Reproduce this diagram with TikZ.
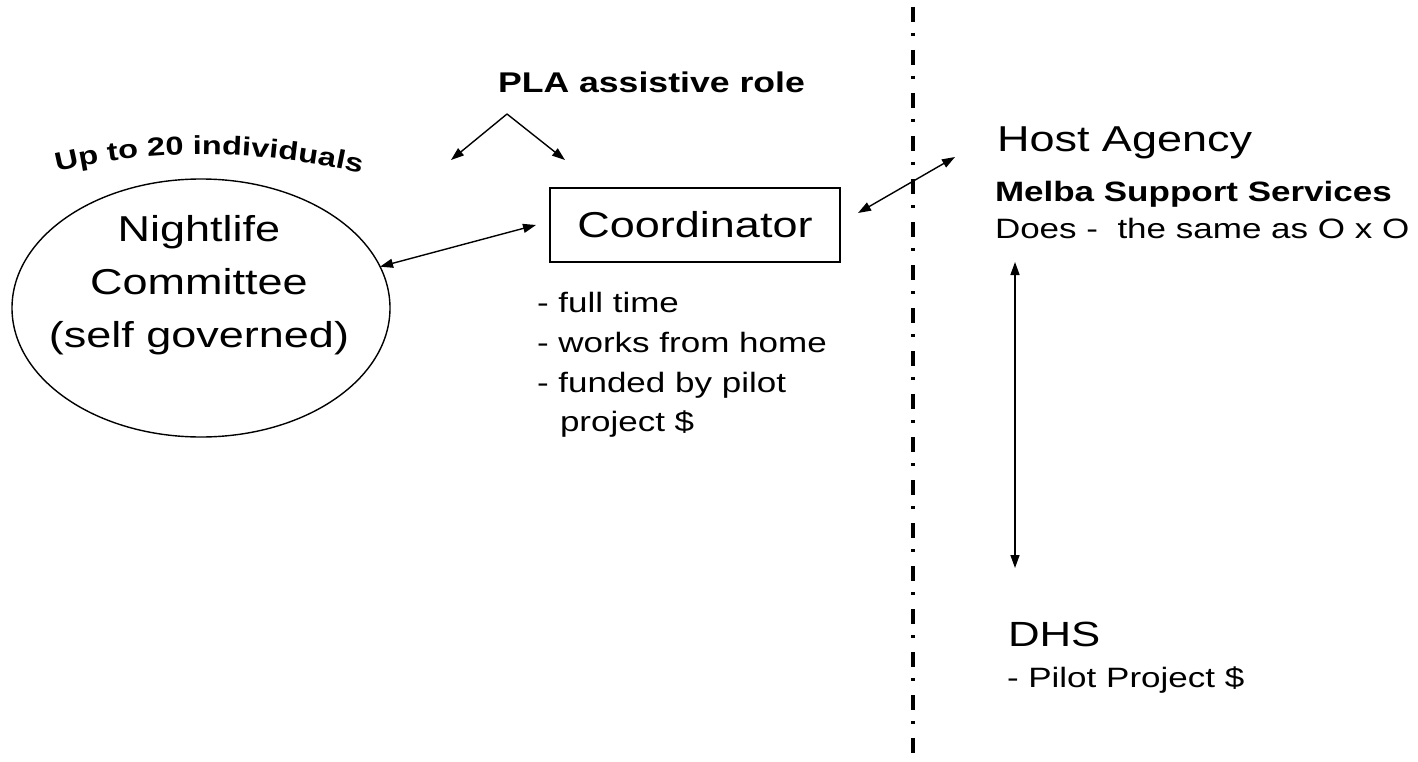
\documentclass[tikz,border=0pt]{standalone}
\usepackage{fontspec}
\setmainfont[FakeStretch=1.25]{Liberation Sans}
\usetikzlibrary{arrows.meta,shapes.geometric,decorations.text}
\begin{document}
\begin{tikzpicture}[x=1pt,y=-1pt,
  every node/.style={inner sep=0pt, outer sep=0pt},
  txt/.style={anchor=base west},
  big/.style={font=\fontsize{36}{36}\selectfont},
  mid/.style={font=\fontsize{28}{28}\selectfont},
  midb/.style={font=\fontsize{28}{28}\selectfont\bfseries},
  conn/.style={line width=1.4pt, {Triangle[length=13pt,width=9pt]}-{Triangle[length=13pt,width=9pt]}},
  oneway/.style={line width=1.4pt, -{Triangle[length=13pt,width=9pt]}},
  divider/.style={line width=4pt, dash pattern=on 15pt off 11pt on 3pt off 14pt}
]
\useasboundingbox (0,0) rectangle (1418,762);

% divider
\coordinate (dtop) at (913,7);
\coordinate (dbot) at (913,762);
\draw[divider] (dtop) -- (dbot);

% Nightlife committee
\node[draw, ellipse, line width=1.4pt, minimum width=378pt, minimum height=258pt] (nc) at (201,308) {};
\node[align=center, font=\fontsize{36}{53}\selectfont] (nct) at (199,285) {Nightlife\\Committee\\(self governed)};

% curved label
\path[decorate, decoration={text along path, text align=center,
  text={|\fontsize{26}{26}\selectfont\bfseries|Up to 20 individuals}}]
  (46,174) .. controls (146,148) and (262,148) .. (372,176);

% PLA
\node[txt, font=\fontsize{28.5}{28.5}\selectfont\bfseries] (pla) at (498,93) {PLA assistive role};
\coordinate (apex) at (507,114);
\coordinate (plaL) at (451,160);
\coordinate (plaR) at (565,160);
\draw[oneway] (apex) -- (plaL);
\draw[oneway] (apex) -- (plaR);

% Coordinator
\node[draw, line width=1.4pt, minimum width=290pt, minimum height=74pt, big] (coord) at (695,225) {Coordinator};
\draw[conn] (nc.13.6) -- ([xshift=-14pt]coord.west);

\node[txt, mid] (b1) at (537,312) {- full time};
\node[txt, mid] (b2) at (537,352) {- works from home};
\node[txt, mid] (b3) at (537,392) {- funded by pilot};
\node[txt, mid] (b4) at (560,431) {project \$};

% Host agency
\node[txt, big] (host) at (997,152) {Host Agency};
\node[txt, midb] (melba) at (995,201) {Melba Support Services};
\node[txt, mid] (does) at (995,238) {Does -\ \ the same as O x O};
\coordinate (chA) at (858,213);
\coordinate (chB) at (955,157);
\draw[conn] (chA) -- (chB);

% DHS
\node[txt, font=\fontsize{35}{35}\selectfont] (dhs) at (1008,646) {DHS};
\node[txt, mid] (pilot) at (1007,687) {- Pilot Project \$};
\coordinate (vA) at (1015,262);
\coordinate (vB) at (1015,568);
\draw[conn] (vA) -- (vB);
\end{tikzpicture}
\end{document}
